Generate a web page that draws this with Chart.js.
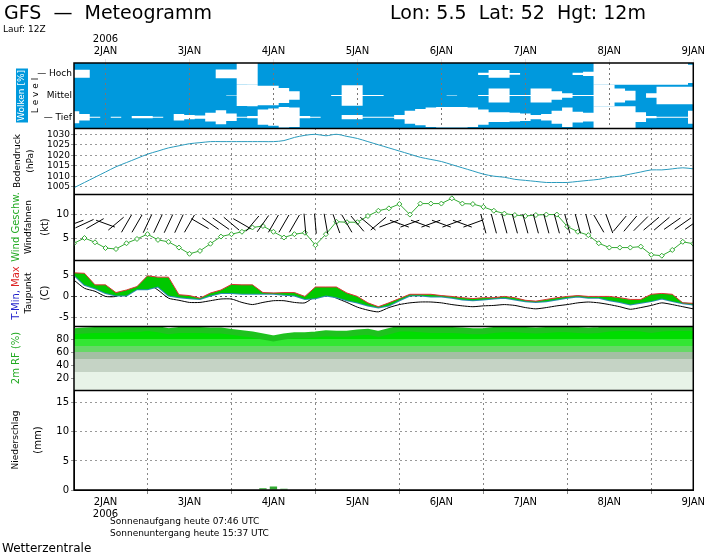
<!DOCTYPE html>
<html>
<head>
<meta charset="utf-8">
<script src="https://cdn.jsdelivr.net/npm/chart.js@4.4.1/dist/chart.umd.min.js"></script>
<style>
  html, body { margin: 0; padding: 0; background: #fff; }
  #wrap { width: 707px; height: 553px; }
</style>
</head>
<body>
<div id="wrap"><canvas id="chart" width="707" height="553"></canvas></div>
<script>
// Time axis: hours since 2 Jan 2006 00Z, every 3 h
const hours = [-9,-6,-3,0,3,6,9,12,15,18,21,24,27,30,33,36,39,42,45,48,51,54,57,60,63,66,69,72,75,78,
  81,84,87,90,93,96,99,102,105,108,111,114,117,120,123,126,129,132,135,138,141,144,147,150,153,156,159,162,165,168];
const dayLabels = ['2JAN','3JAN','4JAN','5JAN','6JAN','7JAN','8JAN','9JAN'];
const dayTicks = [0,24,48,72,96,120,144,168];

// Cloud cover (%) per level
const cloudHoch = [37,37,0,0,0,0,0,0,0,0,0,0,0,0,40,40,100,100,0,0,0,0,0,0,0,0,0,0,0,0,
  0,0,0,0,0,0,0,0,0,10,35,35,8,0,0,0,0,0,10,20,100,100,100,100,100,100,100,100,100,85];
const cloudMittel = [0,0,0,0,0,0,0,0,0,0,0,0,0,0,0,3,97,100,90,90,70,40,0,0,0,5,95,95,5,5,
  0,0,0,0,0,0,3,0,0,5,65,65,5,5,65,65,40,20,5,5,100,100,65,45,0,20,80,80,80,80];
const cloudTief = [55,30,5,0,5,0,10,10,5,0,30,20,15,40,65,35,5,10,70,80,95,90,10,5,0,0,20,20,5,5,
  5,20,60,75,90,95,95,95,90,70,45,45,40,35,20,30,60,90,50,40,100,100,100,100,45,10,5,5,5,60];

// Surface pressure (hPa)
const pressure = [1004.5,1007,1009.5,1012,1014.5,1016.5,1018.5,1020.5,1022,1023.5,1024.5,1025.5,1026,1026.5,1026.5,1026.5,1026.5,1026.5,1026.5,1026.5,
  1027,1028.5,1029.5,1030,1029.3,1030,1029,1028,1026.5,1025,1023.5,1022,1020.5,1019,1018,1017,1015.5,1014,1012.5,1011,
  1010,1009.5,1008.5,1008,1007.5,1007,1007,1007,1007.5,1008,1008.5,1009.5,1010,1011,1012,1013,1013,1013.5,1014,1013.5];

// Wind speed (kt) and wind vane rotation (deg)
const windSpeed = [3.9,5.0,4.1,2.9,2.7,3.9,4.8,5.8,4.6,4.2,3.0,1.7,2.3,3.8,5.3,5.8,6.3,7.2,7.5,6.3,5.1,5.8,6.1,3.5,5.8,8.4,8.3,8.3,
  9.6,10.7,11.2,12.1,9.9,12.2,12.2,12.2,13.3,12.2,12.1,11.5,10.7,10.1,9.8,9.6,9.8,9.9,9.9,7.4,6.3,5.6,3.9,3.0,3.0,3.0,3.2,1.5,1.3,2.5,4.2,3.8];
const windVane = [-20,-25,-30,20,-40,-60,-60,-65,-65,-65,-65,-60,30,35,35,40,30,-50,-55,-60,-60,-60,85,85,80,70,60,50,40,-40,
  -20,20,-20,20,-20,20,-20,20,-20,75,75,75,75,75,75,75,75,75,75,75,60,70,-50,-50,-45,-40,-40,-35,-35,-35];
const vaneLevel = 8;

// Temperature (C)
const tMax = [5.5,5.4,2.7,2.7,0.9,1.5,2.3,4.8,4.5,4.5,0.4,0.2,-0.4,0.8,1.5,2.8,2.7,2.7,0.9,0.8,0.9,0.9,0,2.2,2.2,2.2,0.8,0,
  -1.5,-2.4,-1.5,-0.5,0.5,0.5,0.5,0.2,0,-0.3,-0.5,-0.3,-0.3,0,-0.3,-0.9,-1.1,-0.7,-0.3,0,0.2,0,0,0,-0.3,-0.7,-0.7,0.5,0.7,0.5,-1.5,-1.6];
const tMin = [5,2.7,1.9,0.8,0.2,0.2,1.7,1.7,2.3,0.2,-0.2,-0.4,-0.6,0.2,0.8,0.8,0.6,0.6,0.6,0.6,0.4,0.2,-0.6,-0.4,0.2,-0.2,-0.9,-1.4,
  -2.1,-2.6,-2.1,-0.9,0.2,0.2,0,0,-0.3,-0.7,-0.9,-0.7,-0.5,-0.3,-0.7,-1.1,-1.3,-1.1,-0.7,-0.3,0,-0.3,-0.3,-0.9,-1.3,-1.9,-1.5,-1.1,-0.5,-1.1,-1.6,-1.9];
const dewPoint = [3.8,1.9,1.2,0,0,1.2,1.9,2.9,1.5,-0.4,-0.9,-1.4,-1.4,-1.0,-0.6,-0.6,-1.4,-1.9,-1.4,-1.0,-1.0,-1.4,-1.5,0,0.6,-0.4,-1.4,-2.5,
  -3.2,-3.6,-2.6,-1.9,-1.5,-1.3,-1.3,-1.5,-1.9,-2.2,-2.4,-2.2,-2.1,-1.9,-2.1,-2.6,-2.9,-2.6,-2.2,-1.9,-1.5,-1.3,-1.5,-1.9,-2.4,-3.0,-2.6,-2.1,-1.5,-1.9,-2.4,-2.9];

// Relative humidity 2m (%)
const humidity = [92,93,94,94,94,95,95,97,95,92,94,94,94,93,93,91,89,87,84,81,84,86,86,87,89,88,88,90,91,88,
  92,96,96,95,94,94,94,93,92,92,94,95,95,94,93,94,95,95,94,93,94,96,97,97,96,94,96,97,97,97];

// Precipitation (mm / 3h)
const precip = [0,0,0,0,0,0,0,0,0,0,0,0,0,0,0,0,0,0,0.3,0.6,0.2,0,0,0,0,0,0,0,0,0,
  0,0.1,0,0,0,0.1,0,0,0,0,0,0,0,0,0,0,0,0,0,0,0,0,0,0,0,0,0,0,0,0];

const pts = arr => arr.map((v, i) => ({ x: hours[i], y: v }));
const FONT = 'DejaVu Sans';

// Cloud level: two stepped edges, filled white between them
function cloudLevel(label, arr, centre) {
  const edge = sign => arr.map((v, i) => ({ x: hours[i], y: centre + sign * v / 200 }));
  const base = { type: 'line', yAxisID: 'cloud', stepped: 'middle', pointRadius: 0, borderWidth: 0,
    borderColor: 'rgba(0,0,0,0)', backgroundColor: '#fff' };
  return [
    Object.assign({ label: label + ' oben', data: edge(1), fill: false }, base),
    Object.assign({ label: label + ' unten', data: edge(-1), fill: '-1' }, base)
  ];
}

function yScale(weight, extra) {
  return Object.assign({
    type: 'linear', position: 'left', stack: 'panels', stackWeight: weight,
    afterFit: s => { s.width = 74; },
    border: { color: '#000', dash: [2, 3] },
    grid: { color: ctx => ctx.tick && ctx.tick.value === 0 && ctx.scale.id === 'temp' ? '#555' : '#999', tickLength: 3 },
    ticks: { color: '#000', font: { family: FONT, size: 10 }, padding: 2, autoSkip: false, callback: v => String(v) }
  }, extra);
}
const setTicks = list => s => { s.ticks = list.map(v => ({ value: v })); };

function rhGradient(ctx) {
  const chart = ctx.chart;
  const s = chart.scales.rh;
  if (!s || !chart.chartArea || !isFinite(s.top) || !isFinite(s.bottom) || s.bottom <= s.top) return '#0c0';
  const g = chart.ctx.createLinearGradient(0, s.getPixelForValue(100), 0, s.getPixelForValue(0));
  const stops = [[100,'#00dd00'],[80,'#00dd00'],[80,'#33e633'],[70,'#33e633'],[70,'#66d866'],[60,'#66d866'],
    [60,'#a3bfa3'],[50,'#a3bfa3'],[50,'#c5d3c5'],[30,'#c5d3c5'],[30,'#e8f3e8'],[0,'#e8f3e8']];
  stops.forEach(([v, c]) => g.addColorStop(1 - v / 100, c));
  return g;
}

function vText(ctx, x, y, parts, font) {
  ctx.save();
  ctx.translate(x, y);
  ctx.rotate(-Math.PI / 2);
  ctx.font = font;
  ctx.textBaseline = 'middle';
  const total = parts.reduce((w, p) => w + ctx.measureText(p[0]).width, 0);
  let cx = -total / 2;
  parts.forEach(([t, c]) => { ctx.fillStyle = c; ctx.fillText(t, cx, 0); cx += ctx.measureText(t).width; });
  ctx.restore();
}

const decor = {
  id: 'decor',
  beforeDatasetsDraw(chart) {
    const { ctx, chartArea: a, scales } = chart;
    const c = scales.cloud;
    ctx.save();
    ctx.fillStyle = '#0099dd';
    ctx.fillRect(a.left, c.top, a.right - a.left, c.bottom - c.top);
    ctx.restore();
  },
  afterDatasetsDraw(chart) {
    const { ctx, scales } = chart;
    const c = scales.cloud;
    ctx.save();
    ctx.strokeStyle = '#777'; ctx.lineWidth = 1; ctx.setLineDash([2, 3]);
    dayTicks.forEach(h => {
      const x = Math.round(scales.x.getPixelForValue(h)) + 0.5;
      ctx.beginPath(); ctx.moveTo(x, c.top); ctx.lineTo(x, c.bottom); ctx.stroke();
    });
    ctx.restore();
  },
  afterDraw(chart) {
    const { ctx, chartArea: a, scales } = chart;
    ctx.save();
    ctx.strokeStyle = '#000'; ctx.lineWidth = 1.5;
    ctx.strokeRect(a.left, a.top, a.right - a.left, a.bottom - a.top);
    ['cloud','pres','wind','temp','rh'].forEach(k => {
      const y = Math.round(scales[k].bottom) + 0.5;
      ctx.beginPath(); ctx.moveTo(a.left, y); ctx.lineTo(a.right, y); ctx.stroke();
    });
    ctx.fillStyle = '#000';
    ctx.font = '19px ' + FONT;
    ctx.textBaseline = 'alphabetic';
    ctx.fillText('GFS  \u2014  Meteogramm', 4, 19);
    ctx.fillText('Lon: 5.5  Lat: 52  Hgt: 12m', 390, 19);
    ctx.font = '9px ' + FONT;
    ctx.fillText('Lauf: 12Z', 3, 32);
    ctx.fillText('Sonnenaufgang heute 07:46 UTC', 110, 524);
    ctx.fillText('Sonnenuntergang heute 15:37 UTC', 110, 536);
    ctx.font = '12px ' + FONT;
    ctx.fillText('Wetterzentrale', 2, 552);

    const mid = s => (s.top + s.bottom) / 2;
    const f9 = '9px ' + FONT, f10 = '10px ' + FONT;
    const c = scales.cloud;
    ctx.fillStyle = '#0099dd';
    ctx.fillRect(16, mid(c) - 27, 12, 54);
    vText(ctx, 22, mid(c), [['Wolken [%]', '#fff']], f9);
    vText(ctx, 36, mid(c), [['L e v e l', '#000']], f9);
    vText(ctx, 18, mid(scales.pres), [['Bodendruck', '#000']], f9);
    vText(ctx, 31, mid(scales.pres), [['(hPa)', '#000']], f9);
    vText(ctx, 16, mid(scales.wind), [['Wind Geschw.', '#2a2']], f10);
    vText(ctx, 29, mid(scales.wind), [['Windfahnen', '#000']], f9);
    vText(ctx, 45, mid(scales.wind), [['(kt)', '#000']], f10);
    vText(ctx, 16, mid(scales.temp), [['T-Min, ', '#22c'], ['Max', '#d22']], f10);
    vText(ctx, 29, mid(scales.temp), [['Taupunkt', '#000']], f9);
    vText(ctx, 45, mid(scales.temp), [['(C)', '#000']], f10);
    vText(ctx, 16, mid(scales.rh), [['2m RF (%)', '#2a2']], f10);
    vText(ctx, 16, mid(scales.rain), [['Niederschlag', '#000']], f9);
    vText(ctx, 38, mid(scales.rain), [['(mm)', '#000']], f10);
    ctx.restore();
  }
};

const xTicksFont = { family: FONT, size: 10 };

new Chart(document.getElementById('chart'), {
  data: {
    datasets: [
      ...cloudLevel('Hoch', cloudHoch, 2.5),
      ...cloudLevel('Mittel', cloudMittel, 1.5),
      ...cloudLevel('Tief', cloudTief, 0.5),
      { type: 'line', label: 'Bodendruck', data: pts(pressure), yAxisID: 'pres', borderColor: '#2a9bbd',
        borderWidth: 1, pointRadius: 0, tension: 0.3 },
      { type: 'line', label: 'Windfahnen', data: windVane.map((r, i) => ({ x: hours[i], y: vaneLevel })), yAxisID: 'wind',
        showLine: false, pointStyle: 'line', pointRadius: 10, pointRotation: windVane, borderColor: '#000', borderWidth: 1 },
      { type: 'line', label: 'Wind', data: pts(windSpeed), yAxisID: 'wind', borderColor: '#3a3', borderWidth: 1,
        pointStyle: 'rectRot', pointRadius: 2.5, pointBackgroundColor: '#fff', pointBorderColor: '#3a3' },
      { type: 'line', label: 'T-Max', data: pts(tMax), yAxisID: 'temp', borderColor: '#d33', borderWidth: 1,
        pointRadius: 0, fill: { target: '+1' }, backgroundColor: '#00c800' },
      { type: 'line', label: 'T-Min', data: pts(tMin), yAxisID: 'temp', borderColor: '#2a8fb0', borderWidth: 2, pointRadius: 0 },
      { type: 'line', label: 'Taupunkt', data: pts(dewPoint), yAxisID: 'temp', borderColor: '#000', borderWidth: 1,
        pointRadius: 0, tension: 0.2 },
      { type: 'line', label: 'RF', data: pts(humidity), yAxisID: 'rh', borderColor: '#1fc21f', borderWidth: 6,
        pointRadius: 0, fill: 'origin', backgroundColor: rhGradient },
      { type: 'bar', label: 'Niederschlag', data: pts(precip), yAxisID: 'rain', backgroundColor: '#33aa33',
        barPercentage: 0.7, categoryPercentage: 1 }
    ]
  },
  options: {
    responsive: false,
    animation: false,
    layout: { padding: { left: 0, right: 12, top: 0, bottom: 0 } },
    plugins: { legend: { display: false }, tooltip: { enabled: false } },
    scales: {
      x: {
        type: 'linear', position: 'bottom', min: -9, max: 168, offset: false,
        afterBuildTicks: setTicks(dayTicks),
        afterFit: s => { s.height = 63; },
        border: { color: '#000', dash: [2, 3] },
        grid: { color: '#888', tickLength: 4 },
        ticks: { color: '#000', font: xTicksFont, maxRotation: 0, padding: 2, autoSkip: false,
          callback: v => { const i = dayTicks.indexOf(v); return i === 0 ? [dayLabels[i], '2006'] : dayLabels[i]; } }
      },
      xTop: {
        type: 'linear', position: 'top', min: -9, max: 168, offset: false,
        afterBuildTicks: setTicks(dayTicks),
        afterFit: s => { s.height = 63; },
        border: { color: '#000' },
        grid: { drawOnChartArea: false, tickLength: 4 },
        ticks: { color: '#000', font: xTicksFont, maxRotation: 0, padding: 2, autoSkip: false,
          callback: v => { const i = dayTicks.indexOf(v); return i === 0 ? ['2006', dayLabels[i]] : dayLabels[i]; } }
      },
      rain: yScale(100, { min: 0, max: 17.2, afterBuildTicks: setTicks([0, 5, 10, 15]) }),
      rh: yScale(64, { min: 2, max: 100, afterBuildTicks: setTicks([20, 40, 60, 80]) }),
      temp: yScale(66, { min: -6.9, max: 8.5, afterBuildTicks: setTicks([-5, 0, 5]) }),
      wind: yScale(66, { min: 0.4, max: 14.2, afterBuildTicks: setTicks([5, 10]) }),
      pres: yScale(66, { min: 1001.5, max: 1033, afterBuildTicks: setTicks([1005, 1010, 1015, 1020, 1025, 1030]),
        ticks: { color: '#000', font: { family: FONT, size: 9 }, padding: 1, autoSkip: false, callback: v => String(v) } }),
      cloud: yScale(65, { min: 0, max: 3, afterBuildTicks: setTicks([0.5, 1.5, 2.5]),
        grid: { display: false, drawTicks: false },
        ticks: { color: '#000', font: { family: FONT, size: 9 }, padding: 2, autoSkip: false,
          callback: v => ({ 0.5: '\u2014 Tief', 1.5: 'Mittel', 2.5: '\u2014 Hoch' })[v] } })
    }
  },
  plugins: [decor]
});
</script>
</body>
</html>
